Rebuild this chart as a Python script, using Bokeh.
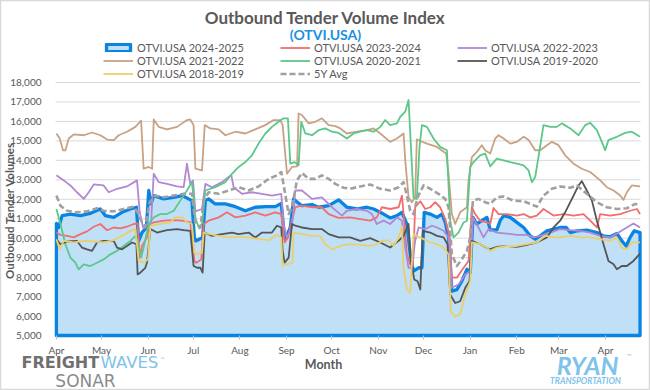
import numpy as np
import pandas as pd
from bokeh.plotting import figure
from bokeh.models import (Range1d, FixedTicker, MonthsTicker, DatetimeTickFormatter, DatetimeAxis,
                          LinearAxis, NumeralTickFormatter, Legend, LegendItem, Label)
from bokeh.embed import file_html
from bokeh.resources import INLINE

# ---------------- data (days since START_DATE, index values) ----------------
START_DATE = "2024-04-01"
Y_MIN, Y_MAX, Y_STEP = 5000, 18000, 1000
X_FIRST_DAY, X_LAST_DAY = -0.6, 388.3   # visible span of the plot area in days

label_2425 = "OTVI.USA 2024-2025"
days_2425 = [0, 1.5, 3.8, 9.3, 16, 22.6, 29.2, 32.6, 38.1, 43.6, 49.2, 53.2, 54.7, 56.9, 59.8, 61.4, 62.9, 64.7, 71.3, 78,
             83.5, 90.1, 91.7, 92.6, 97.2, 99, 101.2, 105.6, 112.3, 119, 125.6, 132.2, 138.9, 145.5, 149.5, 151, 152.2, 155.5,
             157.7, 158.8, 163.2, 169.9, 174.3, 181, 187.6, 193.1, 199.8, 206.4, 210.9, 217.5, 221.9, 226.4, 229.7, 233,
             235.2, 237.4, 240.8, 243, 244.5, 248.5, 253, 256.3, 258.5, 260.7, 262.9, 266.2, 269.5, 272.9, 275.1, 276.9,
             279.5, 282.8, 286.2, 288.4, 292.8, 295, 297.3, 301.7, 306.1, 310.6, 315, 318.3, 321.6, 326.1, 330.5, 334.9,
             338.9, 341.6, 346, 352.6, 359.3, 363.7, 368.1, 372.6, 375.9, 378.8, 381.4, 384.1, 388]
vals_2425 = [10760, 10550, 11160, 11240, 11160, 11280, 11500, 11160, 11070, 11330, 11500, 11590, 9860, 10290, 10550, 12450,
             11760, 12190, 12020, 12100, 12190, 11930, 10040, 9860, 10040, 11930, 12020, 11760, 11760, 11620, 11410, 11590,
             11620, 11620, 11790, 10550, 9950, 10550, 12020, 11930, 11670, 11730, 11590, 11670, 11970, 11590, 11500, 11590,
             11500, 11240, 11040, 11160, 11330, 10730, 9170, 8310, 8480, 8480, 11330, 11240, 11070, 11240, 10810, 10040,
             7280, 7360, 7790, 8400, 8230, 11070, 10730, 10900, 11070, 10430, 10430, 10900, 11160, 11070, 10810, 10550,
             10120, 9950, 10120, 10380, 10470, 10550, 10550, 10290, 10380, 10410, 10290, 10120, 10070, 10240, 9860, 9600,
             10040, 10380, 10290]

label_2324 = "OTVI.USA 2023-2024"
days_2324 = [0, 2.7, 7.1, 11.5, 16, 20.4, 24.8, 29.2, 33.7, 38.1, 42.5, 46.9, 51.4, 54, 55.4, 56.9, 60.2, 62, 64.7, 71.3,
             78, 83.5, 89, 91.7, 93, 96.3, 97.9, 101.2, 107.9, 113.4, 119, 125.6, 132.2, 138.9, 145.5, 149.5, 151.7, 154,
             156.6, 158.8, 163.2, 169.9, 176.5, 181, 187.6, 195.3, 202, 208.6, 213, 216.4, 221.9, 227.5, 229.7, 231.2, 233,
             235.2, 237, 238.5, 241.9, 245.2, 248.5, 251.8, 255.1, 258.5, 261.4, 262.9, 266.2, 270.7, 274, 276.2, 278.4,
             281.7, 286.2, 288.4, 290.6, 294, 299.5, 306.1, 310.6, 315, 319.4, 323.8, 330.5, 337.1, 343.8, 350.4, 354.9,
             359.3, 361.5, 368.1, 374.8, 381.4, 385.9, 388]
vals_2324 = [10290, 10170, 10120, 10040, 10210, 10350, 10590, 10730, 10410, 10550, 10500, 10590, 10730, 10760, 9000, 9600,
             10040, 10730, 10810, 10900, 10930, 10900, 10810, 8830, 8740, 8910, 10730, 10900, 11070, 11330, 11070, 11160,
             11330, 11160, 11330, 11240, 9780, 10040, 10900, 11590, 11670, 11590, 11590, 11240, 11040, 11070, 10980, 10900,
             11070, 11590, 11500, 11590, 12190, 10900, 9170, 8660, 8570, 11590, 11900, 11500, 11590, 11850, 11590, 10980,
             10040, 7970, 7970, 8480, 8830, 11590, 11240, 10900, 10810, 10730, 11550, 11240, 11240, 11160, 11240, 11070,
             11160, 11500, 11160, 11240, 11160, 11240, 10900, 10550, 11240, 11160, 11240, 11410, 11500, 11240]

label_2223 = "OTVI.USA 2022-2023"
days_2223 = [0, 4.9, 9.3, 13.7, 18.2, 21.5, 24.8, 31.4, 34.8, 40.3, 46.9, 53.6, 55.4, 57.6, 60.2, 62.9, 64.7, 68, 73.5,
             80.2, 84.6, 86.8, 89, 90.8, 92.4, 96.8, 99, 103.4, 110.1, 114.5, 116.3, 117.8, 123.4, 130, 136.7, 143.3, 149.5,
             151, 153.3, 156.6, 158.8, 163.2, 169.9, 176.5, 183.2, 189.8, 193.1, 199.8, 206.4, 209.7, 213, 217.5, 221.9,
             226.4, 229.7, 231.9, 234.1, 236.3, 238.5, 240.8, 245.2, 249.6, 253, 257.4, 260.7, 262.9, 267.3, 271.8, 275.1,
             276.9, 280.6, 283.9, 287.3, 292.8, 299.5, 306.1, 312.8, 317.2, 321.6, 328.3, 334.9, 341.6, 348.2, 354.9, 361.5,
             368.1, 373.7, 379.2, 383.6, 388]
vals_2223 = [13230, 12970, 12710, 12360, 12020, 12360, 12760, 12710, 12360, 12540, 12660, 12970, 11330, 10550, 10730, 10730,
             13310, 12880, 12790, 12660, 12620, 13830, 12790, 12970, 11380, 11500, 12790, 12620, 12880, 13140, 13230, 12620,
             12280, 12360, 12280, 12190, 12280, 10730, 10040, 10550, 12450, 12450, 12020, 12100, 11590, 11160, 11410, 11500,
             11410, 11240, 10730, 10900, 10730, 11070, 10900, 9520, 8480, 8480, 9860, 10550, 10470, 10640, 10550, 10380,
             10040, 7450, 7620, 8140, 8310, 11070, 10550, 10040, 10470, 10290, 10240, 10170, 10170, 10040, 10120, 10290,
             10470, 10410, 10380, 10290, 10120, 10040, 10290, 10550, 10760, 10550]

label_2122 = "OTVI.USA 2021-2022"
days_2122 = [0, 2.2, 4.4, 6, 8.2, 11.5, 18.2, 23.7, 29.2, 33.7, 38.1, 41.4, 46.9, 52.5, 56.3, 58, 61.4, 63.6, 64.7, 68,
             73.5, 80.2, 86.8, 89, 91.2, 92.4, 96.8, 98.6, 102.3, 107.9, 112.3, 119, 125.6, 132.2, 138.9, 144.4, 148.8, 150.4,
             153.3, 156.6, 160, 161, 163.2, 167.7, 172.1, 176.5, 181, 185.4, 188.7, 193.1, 199.8, 206.4, 210.9, 215.3, 221.9,
             226.4, 230.8, 231.9, 234.1, 236.3, 238.5, 239.6, 246.3, 253, 259.1, 260.7, 262.9, 265.1, 268.4, 272.9, 274,
             276.2, 279.5, 282.8, 285, 288.4, 291.7, 293.9, 297.3, 301.7, 306.1, 310.6, 313.9, 318.3, 321.6, 326.1, 329.4,
             333.8, 338.2, 343.8, 349.3, 354.9, 361.5, 365.9, 370.4, 374.8, 377, 379.2, 382.5, 388]
vals_2122 = [15380, 15120, 14520, 14520, 15120, 15330, 15290, 15430, 15290, 15070, 15040, 15290, 15470, 15720, 16040, 13570,
             13660, 13570, 16100, 15720, 15590, 15720, 16070, 16100, 15810, 13570, 13480, 15810, 15640, 15590, 15290, 15470,
             15380, 15590, 15810, 16070, 16070, 15810, 13310, 13660, 13690, 16410, 16330, 15900, 15980, 16160, 15810, 15760,
             15640, 15380, 15470, 15550, 15640, 15380, 14950, 15120, 15380, 14000, 12100, 11850, 12100, 15070, 14860, 14690,
             14350, 13310, 11240, 10730, 11330, 11590, 12970, 14170, 14430, 14780, 14520, 14350, 15120, 15290, 15120, 14860,
             14950, 15210, 15040, 14520, 14520, 14780, 14950, 14780, 14260, 13830, 13570, 13400, 12970, 12620, 12450, 12190,
             11970, 12360, 12710, 12660]

label_2021 = "OTVI.USA 2020-2021"
days_2021 = [0, 2.7, 6, 9.3, 12.6, 14.8, 18.2, 22.6, 27, 31.4, 35.9, 40.3, 44.7, 49.2, 52.5, 54, 56.3, 58.5, 61.4, 64.7,
             69.1, 73.5, 78, 82.4, 86.8, 90.1, 92.5, 95, 97, 99, 105.6, 112.3, 116.7, 121.2, 125.6, 130, 134.4, 138.9, 143.3,
             147.7, 151, 153.9, 155.5, 158.4, 161, 162.8, 165.5, 169.9, 174.3, 178.7, 183.2, 187.6, 193.1, 197.6, 202, 206.4,
             210.9, 215.3, 218.6, 221.9, 226.4, 228.6, 231.9, 234.1, 235.7, 237.4, 239.6, 241.4, 243, 246.3, 250.7, 255.1,
             259.6, 261.8, 264, 267.3, 270.7, 272.9, 275.1, 277.3, 281.7, 285, 288.4, 292.8, 297.3, 301.7, 306.1, 310.6,
             313.9, 316.1, 318.3, 321.2, 323.8, 328.3, 332.7, 336, 341.6, 347.1, 351.5, 354.9, 359.3, 362.6, 364.8, 367,
             372.6, 378.1, 382.5, 388]
vals_2021 = [11500, 10730, 9690, 9000, 8740, 8400, 8660, 8570, 8740, 8910, 9170, 9350, 9600, 9860, 10120, 9860, 9000, 9690,
             10730, 11070, 11240, 11240, 11410, 11930, 12450, 12880, 11000, 10500, 10800, 12450, 12620, 12880, 13310, 13660,
             13910, 14260, 14860, 15380, 15720, 15980, 16160, 16160, 13830, 13910, 13740, 15980, 15380, 15290, 15550, 15640,
             15470, 15410, 15120, 15380, 15470, 15550, 15470, 15720, 16070, 15810, 15900, 16240, 16500, 17100, 14690, 12100,
             12020, 14690, 15810, 15720, 15120, 14690, 14520, 10900, 10040, 10290, 10810, 10900, 13660, 13910, 14260, 14350,
             13690, 14090, 14000, 13910, 13830, 13740, 13480, 12880, 13140, 14520, 15810, 15720, 15720, 15900, 15640, 15290,
             15810, 15930, 15550, 14950, 14520, 15040, 15210, 15410, 15470, 15210]

label_1920 = "OTVI.USA 2019-2020"
days_1920 = [0, 2.7, 7.1, 13.7, 17, 20.4, 23.7, 27, 31.4, 38.1, 40.3, 43.6, 46.9, 50.3, 53.2, 54, 55.8, 59.1, 60.2, 62.5,
             66.9, 73.5, 80.2, 84.6, 89, 91.2, 93.5, 95.7, 97.2, 98.6, 103.4, 110.1, 116.7, 121.2, 127.8, 132.2, 136.7, 143.3,
             146.6, 149.5, 150.4, 151.7, 154.4, 156.6, 158.8, 163.2, 169.9, 176.5, 181, 187.6, 195.3, 202, 208.6, 215.3,
             221.9, 227.5, 230.8, 234.1, 235.7, 237.9, 240.1, 241.9, 243.6, 248.5, 253, 257.4, 260, 261.8, 265.1, 268.4,
             271.8, 274.6, 276.2, 281.7, 287.9, 292.8, 299.5, 306.1, 312.8, 319.4, 326.1, 330.5, 334.9, 338.2, 343.8, 347.1,
             349.3, 352.6, 356, 359.3, 363.7, 367, 370.4, 372.6, 375.9, 379.2, 383.6, 388]
vals_1920 = [9950, 9690, 9830, 9860, 9520, 9430, 9350, 9780, 9860, 9860, 9520, 9430, 9600, 9780, 9690, 8140, 8230, 8480,
             8740, 10470, 10290, 10410, 10470, 10410, 10380, 8570, 8480, 8480, 8230, 10290, 10120, 10210, 10290, 10210,
             10290, 10040, 10290, 10290, 10640, 10550, 9350, 8740, 9000, 10730, 10640, 10550, 10470, 10470, 10210, 10040,
             10040, 9860, 10000, 9780, 9520, 9860, 10120, 10730, 8830, 7880, 7790, 7360, 10380, 10290, 10120, 10040, 9690,
             7100, 6670, 6760, 7450, 7790, 9860, 9690, 9430, 9550, 9600, 9550, 9660, 9780, 10040, 10550, 10900, 11330, 12190,
             12710, 12930, 12450, 11930, 10900, 9690, 8830, 8660, 8400, 8570, 8570, 8830, 9210]

label_1819 = "OTVI.USA 2018-2019"
days_1819 = [0, 2.2, 4.9, 11.5, 18.2, 24.8, 31.4, 38.1, 43.6, 49.2, 52.5, 54.7, 58, 60.9, 62.5, 69.1, 75.7, 79.1, 83.5,
             86.8, 90.1, 91.7, 93, 96.8, 97.9, 102.3, 107.9, 114.5, 121.2, 127.8, 134.4, 141.1, 146.6, 149.5, 150.4, 153.3,
             157, 157.7, 163.2, 169.9, 175.4, 178.7, 183.2, 186.5, 190.9, 195.3, 202, 208.6, 213, 216.4, 220.8, 224.1, 227.5,
             229.7, 230.8, 233, 235.2, 237.4, 239.6, 244.1, 248.5, 253, 257.4, 260.7, 262.2, 265.1, 268.4, 271.8, 275.1,
             276.2, 281.7, 286.2, 288.4, 292.8, 299.5, 306.1, 312.8, 319.4, 325, 330.5, 334.9, 341.6, 348.2, 354.9, 361.5,
             368.1, 372.6, 375.9, 379.2, 382.5, 388]
vals_1819 = [9950, 9430, 9860, 9780, 9860, 9830, 9780, 9900, 10120, 10380, 10470, 8830, 8740, 8910, 10640, 10730, 10810,
             11070, 11070, 10810, 10730, 9260, 9170, 9260, 10290, 10210, 10120, 10040, 10070, 10040, 9950, 9900, 10170,
             10040, 8570, 8660, 8740, 10290, 10210, 10120, 10120, 9690, 9430, 9520, 9660, 9690, 9660, 9600, 9690, 9860,
             9900, 9600, 10040, 10600, 8480, 7360, 7190, 10210, 10120, 9950, 9780, 9690, 9520, 9170, 6240, 5980, 6070,
             7100, 7790, 9780, 9690, 9520, 9350, 9520, 9600, 9600, 9690, 9780, 10120, 10040, 10040, 10120, 10040, 10040,
             9950, 9860, 10040, 9520, 9430, 9780, 9780]

label_5y = "5Y Avg"
days_5y = [0, 2.7, 7.1, 13.7, 20.4, 27, 31.4, 38.1, 44.7, 51.4, 54, 56.3, 59.1, 62, 65.8, 71.3, 78, 84.6, 90.1, 92.5,
           95.7, 97.9, 101.2, 107.9, 114.5, 121.2, 127.8, 134.4, 141.1, 146.6, 149.5, 151.7, 154.4, 156.6, 159.9, 163.2,
           167.7, 172.1, 176.5, 181, 185.4, 190.9, 195.3, 202, 208.6, 215.3, 221.9, 227.5, 230.8, 233, 235.2, 237.4, 240.1,
           244.1, 248.5, 254, 258.5, 260.7, 262.9, 266.2, 269.5, 272.9, 275.1, 276.9, 280.6, 285, 288.4, 292.8, 297.3,
           303.9, 310.6, 315, 319.4, 323.8, 329.4, 334.9, 341.6, 346, 352.6, 359.3, 365.9, 372.6, 379.2, 384.8, 388]
vals_5y = [12190, 11670, 11410, 11330, 11380, 11540, 11410, 11380, 11500, 11620, 11330, 10900, 10550, 11850, 12190, 12100,
           12190, 12280, 12280, 10730, 10550, 11930, 12360, 12280, 12450, 12620, 12450, 12660, 13050, 13230, 13400, 12450,
           11240, 11590, 12970, 13350, 13050, 13050, 13230, 13050, 12790, 12590, 12540, 12660, 12760, 12540, 12450, 12620,
           12880, 12190, 11410, 11240, 12100, 12710, 12540, 12280, 12020, 11590, 9170, 8570, 8910, 9350, 10040, 11930,
           12020, 11850, 11760, 12100, 12140, 11930, 11900, 11760, 11620, 12190, 12540, 12660, 12590, 12710, 12280, 11850,
           11590, 11500, 11540, 11760, 11730]

# ---------------- layout / styling ----------------
W, H = 650, 390                      # canvas
PLOT_L, PLOT_R = 55, 640             # plot area, px from canvas left
PLOT_T, PLOT_B = 82, 335             # plot area, px from canvas top

FONT = "Lato"
TXT = "#595959"
BLUE = "#0A84E3"
AREA_FILL = "#BFE0F7"
GRID = "#D9D9D9"
C_2324 = "#F26D6D"
C_2223 = "#B088D4"
C_2122 = "#C8A282"
C_2021 = "#5BC88A"
C_1920 = "#555555"
C_1819 = "#EBCF6A"
C_5Y = "#A0A0A0"
LOGO_BLUE = "#7EC3EA"

base = pd.Timestamp(START_DATE)
MS_PER_DAY = 86400000.0
base_ms = base.value / 1e6


def to_ms(days):
    return base_ms + np.asarray(days, dtype=float) * MS_PER_DAY


# ranges chosen so the data span maps onto the plot area while the frame fills the canvas
px_per_day = (PLOT_R - PLOT_L) / (X_LAST_DAY - X_FIRST_DAY)
x_start = to_ms(X_FIRST_DAY - PLOT_L / px_per_day)
x_end = to_ms(X_LAST_DAY + (W - PLOT_R) / px_per_day)
units_per_px = (Y_MAX - Y_MIN) / (PLOT_B - PLOT_T)
y_start = Y_MIN - (H - PLOT_B) * units_per_px
y_end = Y_MAX + PLOT_T * units_per_px

p = figure(width=W, height=H, output_backend="svg", toolbar_location=None,
           x_axis_type=None, y_axis_type=None,
           x_range=Range1d(float(x_start), float(x_end)), y_range=Range1d(y_start, y_end),
           min_border=0, min_border_left=0, min_border_right=0, min_border_top=0, min_border_bottom=0)
p.outline_line_color = "#D9D9D9"
p.outline_line_width = 1.5
p.background_fill_color = "white"
p.border_fill_color = "white"
p.xgrid.visible = False
p.ygrid.visible = False

# horizontal gridlines across the plot area
y_ticks = list(range(Y_MIN, Y_MAX + 1, Y_STEP))
p.segment(x0=[float(to_ms(X_FIRST_DAY))] * len(y_ticks), x1=[float(to_ms(X_LAST_DAY))] * len(y_ticks),
          y0=y_ticks, y1=y_ticks, line_color=GRID, line_width=1)

# area series 2024-2025
d = to_ms(days_2425)
area = p.patch(x=np.concatenate([d, d[::-1]]),
               y=np.concatenate([np.asarray(vals_2425, float), np.full(len(d), float(Y_MIN))]),
               fill_color=AREA_FILL, line_color=BLUE, line_width=3.3, line_join="round")

renderers = {label_2425: area}
for name, days, vals, color, width, dash in [
        (label_2324, days_2324, vals_2324, C_2324, 1.8, "solid"),
        (label_2223, days_2223, vals_2223, C_2223, 1.8, "solid"),
        (label_2122, days_2122, vals_2122, C_2122, 1.8, "solid"),
        (label_2021, days_2021, vals_2021, C_2021, 1.8, "solid"),
        (label_1920, days_1920, vals_1920, C_1920, 1.8, "solid"),
        (label_1819, days_1819, vals_1819, C_1819, 1.8, "solid"),
        (label_5y, days_5y, vals_5y, C_5Y, 2.6, "6 3")]:
    renderers[name] = p.line(x=to_ms(days), y=vals, line_color=color, line_width=width,
                             line_dash=dash, line_join="round")

# axes fixed at the plot-area edges
yax = LinearAxis(fixed_location=float(to_ms(X_FIRST_DAY)), bounds=(Y_MIN, Y_MAX),
                 ticker=FixedTicker(ticks=y_ticks), formatter=NumeralTickFormatter(format="0,0"),
                 axis_line_color=None, major_tick_line_color=None, minor_tick_line_color=None,
                 major_label_standoff=8)
xax = DatetimeAxis(fixed_location=Y_MIN, bounds=(float(to_ms(X_FIRST_DAY)), float(to_ms(X_LAST_DAY))),
                   ticker=MonthsTicker(months=list(range(12))),
                   formatter=DatetimeTickFormatter(months="%b", days="%b"),
                   axis_line_color=None, major_tick_line_color="#BFBFBF", major_tick_out=4,
                   major_tick_in=0, minor_tick_line_color=None, major_label_standoff=4)
for ax in (xax, yax):
    ax.major_label_text_font = FONT
    ax.major_label_text_font_size = "10px"
    ax.major_label_text_color = TXT
p.add_layout(yax, "left")
p.add_layout(xax, "below")


# legends (three columns above the plot area)
def add_legend(names, loc):
    lg = Legend(items=[LegendItem(label=n, renderers=[renderers[n]]) for n in names],
                location=loc, orientation="vertical", glyph_width=30, glyph_height=9,
                label_height=13, label_width=10, spacing=0, padding=0, margin=0, label_standoff=4,
                label_text_font=FONT, label_text_font_size="11px", label_text_color=TXT,
                background_fill_alpha=0, border_line_alpha=0)
    p.add_layout(lg)


add_legend([label_2425, label_2122, label_1819], (103, 310))
add_legend([label_2324, label_2021, label_5y], (280, 310))
add_legend([label_2223, label_1920], (457, 323))


# texts, in px from the canvas bottom-left
def add_text(text, x, y, size, color, style="normal", align="center", angle=0, font=FONT):
    p.add_layout(Label(x=x, y=y, x_units="screen", y_units="screen", text=text,
                       text_font=font, text_font_size=f"{size}px", text_color=color,
                       text_font_style=style, text_align=align, text_baseline="middle",
                       angle=angle, angle_units="deg"))


add_text("Outbound Tender Volume Index", 325, 373, 17, TXT, "bold")
add_text("(OTVI.USA)", 325, 356, 14, "#1A8FE3", "bold")
add_text("Month", 323, 26, 12.5, TXT, "bold")
add_text("Outbound Tender Volumes", 9, 180, 11.5, TXT, "bold", angle=90)
add_text("FREIGHT", 21, 28, 16, "#707070", "bold", align="left", font="DejaVu Sans")
add_text("WAVES", 100, 28, 16.5, LOGO_BLUE, "normal", align="left", font="DejaVu Sans")
add_text("™", 160, 32, 5, LOGO_BLUE, "normal", align="left")
add_text("SONAR", 85, 10, 17, "#8A8A8A", "normal", font="DejaVu Sans")
add_text("RYAN", 587, 26, 25, LOGO_BLUE, "bold italic")
add_text("™", 626, 35, 6, LOGO_BLUE, "normal", align="left")
add_text("TRANSPORTATION", 585, 10, 8.5, LOGO_BLUE, "bold italic")

open("out.html", "w").write(file_html(p, INLINE))
